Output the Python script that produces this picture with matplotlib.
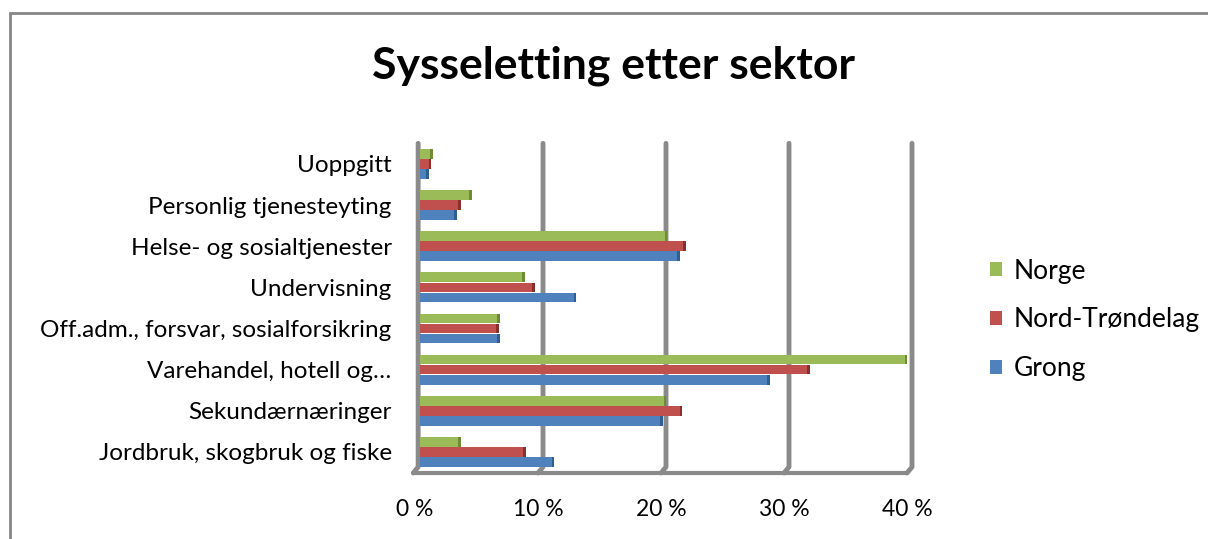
import matplotlib
matplotlib.use("Agg")
import matplotlib.pyplot as plt
from matplotlib.patches import Rectangle
import numpy as np

plt.rcParams['font.family'] = ['Lato', 'DejaVu Sans']

categories = ["Jordbruk, skogbruk og fiske", "Sekundærnæringer", "Varehandel, hotell og…",
              "Off.adm., forsvar, sosialforsikring", "Undervisning",
              "Helse- og sosialtjenester", "Personlig tjenesteyting", "Uoppgitt"]
grong = [10.7, 19.5, 28.2, 6.3, 12.5, 20.9, 2.8, 0.5]
nord_trondelag = [8.4, 21.1, 31.5, 6.2, 9.1, 21.4, 3.1, 0.7]
norge = [3.1, 19.8, 39.4, 6.3, 8.3, 19.9, 4.0, 0.8]
series_names = ["Grong", "Nord-Trøndelag", "Norge"]
colors = ["#4F81BD", "#C0504D", "#9BBB59"]
dark = ["#2F5E94", "#8C2E2B", "#6E8C33"]
xticks = [0, 10, 20, 30, 40]
xticklabels = ["0 %", "10 %", "20 %", "30 %", "40 %"]

W, H = 1208, 539
fig = plt.figure(figsize=(W / 100, H / 100), dpi=100)
fig.patch.set_facecolor("white")

# chart border
fig.add_artist(Rectangle((10 / W, -0.1), 1.2, 1 - 13 / H + 0.1, transform=fig.transFigure,
                         fill=False, edgecolor="#868686", linewidth=2))

xmin = -0.5
px_per_unit = (912 - 420) / 40.0
ax_l, ax_r, ax_t, ax_b = 420 + xmin * px_per_unit, 912, 140, 475
ax = fig.add_axes([ax_l / W, 1 - ax_b / H, (ax_r - ax_l) / W, (ax_b - ax_t) / H])

y = np.arange(len(categories))
h = 0.245
offsets = [-h, 0, h]
data = [grong, nord_trondelag, norge]

# 3D wall gridlines and floor
depth = 0.4  # perspective shift of the floor front edge, in x units
tr = ax.get_xaxis_transform()
grid_c = "#8A8A8A"
for xt in xticks:
    gx = xt - 0.15 if xt == 0 else xt
    ax.plot([gx, gx, gx - depth], [0.99, 0.024, 0.006], color=grid_c, lw=3.5,
            solid_capstyle="round", solid_joinstyle="round", transform=tr, zorder=1,
            clip_on=False)
ax.plot([-depth - 0.15, 40 - depth], [0.006, 0.006], color=grid_c, lw=3.0, transform=tr,
        zorder=1, solid_capstyle="butt", clip_on=False)

bars = []
for vals, off, c, dc, name in zip(data, offsets, colors, dark, series_names):
    b = ax.barh(y + off, vals, height=h * 0.95, color=c, label=name, zorder=3)
    bars.append(b)
    ax.barh(y + off, [0.22] * len(vals), left=vals, height=h * 0.95, color=dc, zorder=3)

for s in ax.spines.values():
    s.set_visible(False)
ax.set_xticks([t - depth for t in xticks])
ax.set_xticklabels(xticklabels, fontsize=16.5)
ax.set_yticks(y)
ax.set_yticklabels(categories, fontsize=17.5)
ax.tick_params(axis="x", length=0, pad=17)
ax.tick_params(axis="y", length=0, pad=16)
ax.set_xlim(xmin, 40)
ax.set_ylim(-0.56, 7.58)

fig.text(614 / W, 1 - 66 / H, "Sysseletting etter sektor", ha="center", va="center",
         fontsize=32, fontweight="bold")

handles = [bars[2], bars[1], bars[0]]
labels = ["Norge", "Nord-Trøndelag", "Grong"]
fig.legend(handles, labels, loc="center left", bbox_to_anchor=(990 / W, 1 - 320 / H),
           frameon=False, fontsize=19, handlelength=0.45, handleheight=0.45,
           handletextpad=0.45, labelspacing=0.9, borderpad=0, borderaxespad=0)

fig.savefig("out.png", dpi=100)
